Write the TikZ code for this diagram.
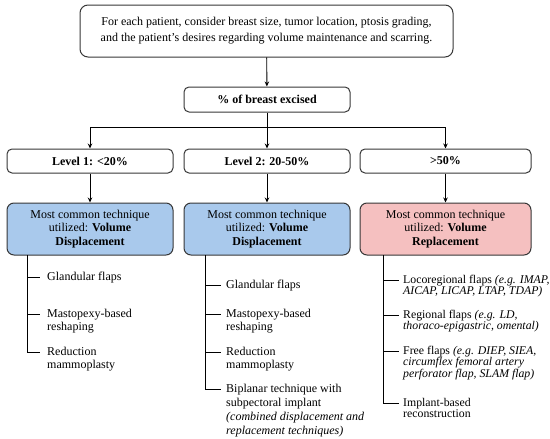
\documentclass[tikz,border=0pt]{standalone}
\usepackage{fontspec}
\setmainfont{Liberation Serif}
\usetikzlibrary{arrows.meta}
\definecolor{bluefill}{RGB}{169,201,236}
\definecolor{pinkfill}{RGB}{245,192,192}
\definecolor{edgec}{RGB}{55,55,55}
\begin{document}
\begin{tikzpicture}[x=1pt,y=-1pt,
  box/.style={draw=edgec, line width=1pt, rounded corners=5pt, fill=white, inner sep=0pt, align=center, font=\fontsize{12}{13.5}\selectfont},
  lvl/.style={box, minimum height=25pt, font=\fontsize{12}{13.5}\selectfont\bfseries},
  tech/.style={box, minimum height=52pt, rounded corners=7pt},
  arr/.style={-{Stealth[length=5pt,width=4.5pt]}, line width=0.9pt},
  ln/.style={line width=0.9pt},
  itemA/.style={anchor=north west, inner sep=0pt, align=left, font=\fontsize{12}{13}\selectfont},
  itemB/.style={anchor=north west, inner sep=0pt, align=left, font=\fontsize{11.8}{11.3}\selectfont}]
\useasboundingbox (0,0) rectangle (550,439);

\node[box, minimum width=373pt, minimum height=52pt, rounded corners=8pt, font=\fontsize{12}{16}\selectfont] (top) at (266.5,31)
  {For each patient, consider breast size, tumor location, ptosis grading,\\and the patient's desires regarding volume maintenance and scarring.};
\node[lvl, minimum width=166pt] (pct) at (267,99.5) {\% of breast excised};

\node[lvl, minimum width=166pt, minimum height=24pt] (L1) at (90,161) {Level 1: <20\%};
\node[lvl, minimum width=166pt, minimum height=24pt] (L2) at (267,161) {Level 2: 20-50\%};
\node[lvl, minimum width=171pt, minimum height=24pt] (L3) at (445.5,161) {>50\%};

\node[tech, fill=bluefill, minimum width=166pt] (B1) at (90,229) {Most common technique\\utilized: \textbf{Volume}\\\textbf{Displacement}};
\node[tech, fill=bluefill, minimum width=166pt] (B2) at (267,229) {Most common technique\\utilized: \textbf{Volume}\\\textbf{Displacement}};
\node[tech, fill=pinkfill, minimum width=171pt] (B3) at (445.5,229) {Most common technique\\utilized: \textbf{Volume}\\\textbf{Replacement}};

% connectors
\draw[arr] (top) -- (pct);
\coordinate (j) at (267,127);
\coordinate (j1) at (L1 |- j);
\coordinate (j3) at (L3 |- j);
\draw[ln] (j1) -- (j3);
\draw[arr] (pct) -- (L2);
\draw[arr] (j1) -- (L1);
\draw[arr] (j3) -- (L3);
\draw[arr] (L1) -- (B1);
\draw[arr] (L2) -- (B2);
\draw[arr] (L3) -- (B3);

% column 1
\node[itemA] (a1) at (47,272) {Glandular flaps};
\node[itemA] (a2) at (47,309) {Mastopexy-based\\reshaping};
\node[itemA] (a3) at (47,347) {Reduction\\mammoplasty};
\coordinate (av0) at (27,255);
\coordinate (av1) at (27,277); \coordinate (ae1) at (40,277);
\coordinate (av2) at (27,314); \coordinate (ae2) at (40,314);
\coordinate (av3) at (27,352); \coordinate (ae3) at (40,352);
\draw[ln] (av0) -- (av3) -- (ae3);
\draw[ln] (av1) -- (ae1);
\draw[ln] (av2) -- (ae2);

% column 2
\node[itemA] (b1) at (226,280) {Glandular flaps};
\node[itemA] (b2) at (226,309) {Mastopexy-based\\reshaping};
\node[itemA] (b3) at (226,347) {Reduction\\mammoplasty};
\node[itemA, font=\fontsize{12}{14}\selectfont] (b4) at (226,384) {Biplanar technique with\\subpectoral implant\\\textit{(combined displacement and}\\\textit{replacement techniques)}};
\coordinate (bv0) at (205,255);
\coordinate (bv1) at (205,285); \coordinate (be1) at (221,285);
\coordinate (bv2) at (205,314); \coordinate (be2) at (221,314);
\coordinate (bv3) at (205,352); \coordinate (be3) at (221,352);
\coordinate (bv4) at (205,389); \coordinate (be4) at (221,389);
\draw[ln] (bv0) -- (bv4) -- (be4);
\draw[ln] (bv1) -- (be1);
\draw[ln] (bv2) -- (be2);
\draw[ln] (bv3) -- (be3);

% column 3
\node[itemB] (c1) at (403,275) {Locoregional flaps \textit{(e.g. IMAP,}\\\textit{AICAP, LICAP, LTAP, TDAP)}};
\node[itemB] (c2) at (403,310) {Regional flaps \textit{(e.g. LD,}\\\textit{thoraco-epigastric, omental)}};
\node[itemB] (c3) at (403,346) {Free flaps \textit{(e.g. DIEP, SIEA,}\\\textit{circumflex femoral artery}\\\textit{perforator flap, SLAM flap)}};
\node[itemB] (c4) at (403,398) {Implant-based\\reconstruction};
\coordinate (cv0) at (383,255);
\coordinate (cv1) at (383,280); \coordinate (ce1) at (399,280);
\coordinate (cv2) at (383,315); \coordinate (ce2) at (399,315);
\coordinate (cv3) at (383,351); \coordinate (ce3) at (399,351);
\coordinate (cv4) at (383,403); \coordinate (ce4) at (399,403);
\draw[ln] (cv0) -- (cv4) -- (ce4);
\draw[ln] (cv1) -- (ce1);
\draw[ln] (cv2) -- (ce2);
\draw[ln] (cv3) -- (ce3);
\end{tikzpicture}
\end{document}
